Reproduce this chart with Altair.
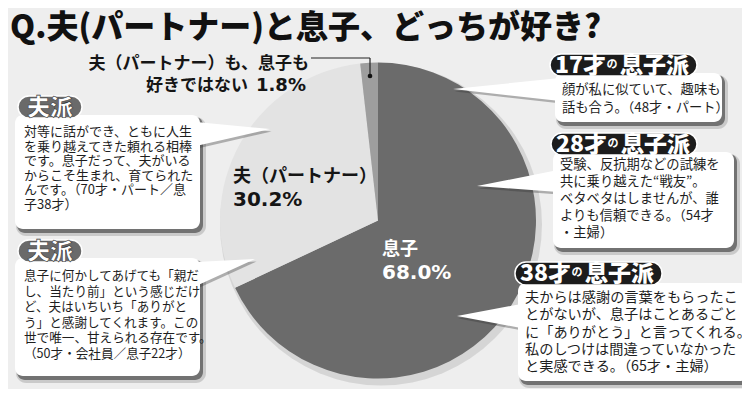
import altair as alt
import pandas as pd

# ---------------- data ----------------
categories = ["息子", "夫（パートナー）", "夫（パートナー）も、息子も好きではない"]
values = [68.0, 30.2, 1.8]
slice_colors = ["#6b6b6b", "#e3e3e3", "#9e9e9e"]

title_text = "Q.夫(パートナー)と息子、どっちが好き?"
neither_lines = ["夫（パートナー）も、息子も", "好きではない"]

callout_ids = ["L1", "L2", "R1", "R2", "R3"]
tag_age = ["", "", "17才", "28才", "38才"]
tag_main = ["夫派", "夫派", "息子派", "息子派", "息子派"]
comments = [
    ["対等に話ができ、ともに人生", "を乗り越えてきた頼れる相棒", "です。息子だって、夫がいる",
     "からこそ生まれ、育てられた", "んです。（70才・パート／息", "子38才）"],
    ["息子に何かしてあげても「親だ", "し、当たり前」という感じだけ", "ど、夫はいちいち「ありがと",
     "う」と感謝してくれます。この", "世で唯一、甘えられる存在です。", "（50才・会社員／息子22才）"],
    ["顔が私に似ていて、趣味も", "話も合う。（48才・パート）"],
    ["受験、反抗期などの試練を", "共に乗り越えた“戦友”。", "ベタベタはしませんが、誰",
     "よりも信頼できる。（54才", "・主婦）"],
    ["夫からは感謝の言葉をもらったこ", "とがないが、息子はことあるごと", "に「ありがとう」と言ってくれる。",
     "私のしつけは間違っていなかった", "と実感できる。（65才・主婦）"],
]

# ---------------- layout (page pixel coordinates) ----------------
W, H, M = 734, 381, 8
CX, CY, R = 378, 220.5, 158
BOX = {"L1": (15, 115, 200, 229), "L2": (15, 258, 200, 376), "R1": (555, 73, 722, 122),
       "R2": (553, 152, 734, 248), "R3": (518, 283, 748, 381)}
PILL = {"L1": (18, 96, 82, 118), "L2": (18, 240, 82, 262), "R1": (550, 54, 697, 76),
        "R2": (551, 133, 697, 155), "R3": (515, 262, 662, 285)}
PILL_FILL = {"L1": "#6a6a6a", "L2": "#6a6a6a", "R1": "#1c1c1c", "R2": "#1c1c1c", "R3": "#1c1c1c"}
TEXT = {"L1": (24, 132, 14.6, 13.0), "L2": (24, 276, 15.6, 12.6), "R1": (562, 90, 18, 13.3),
        "R2": (560, 165, 17, 13.3), "R3": (525, 298, 17.3, 14.2)}
TAIL = {"L1": [(196, 122), (270, 129), (196, 146)], "L2": [(196, 262), (255, 259), (196, 286)],
        "R1": [(560, 78), (453, 89), (560, 101)], "R2": [(558, 170), (477, 186), (558, 192)],
        "R3": [(521, 304), (457, 316), (521, 328)]}

XS = alt.Scale(domain=[M, M + W], nice=False, zero=False)
YS = alt.Scale(domain=[M, M + H], nice=False, zero=False, reverse=True)
FONT_JP = "Noto Sans CJK JP"
FONT_NUM = "DejaVu Sans"


def X(f="x"):
    return alt.X(f"{f}:Q", scale=XS, axis=None)


def Y(f="y"):
    return alt.Y(f"{f}:Q", scale=YS, axis=None)


# ---------------- pie ----------------
pie_df = pd.DataFrame({"category": categories, "value": values, "order": [0, 1, 2]})
pie_shadow = alt.Chart(pd.DataFrame({"a": [0]})).mark_arc(
    outerRadius=R + 3, theta=0, theta2=6.2832, color="#000000", opacity=0.10
).encode(x=alt.value(CX - M + 3), y=alt.value(CY - M + 4))
pie = alt.Chart(pie_df).mark_arc(outerRadius=R).encode(
    theta=alt.Theta("value:Q", stack=True),
    color=alt.Color("category:N", scale=alt.Scale(domain=categories, range=slice_colors), legend=None),
    order=alt.Order("order:Q"),
    x=alt.value(CX - M), y=alt.value(CY - M),
)

pct = [f"{v:.1f}%" for v in values]
lab_jp = pd.DataFrame({"t": [categories[0], categories[1]], "x": [382, 233], "y": [250, 177],
                       "c": ["#ffffff", "#151515"]})
lab_num = pd.DataFrame({"t": [pct[0], pct[1]], "x": [382, 233], "y": [273, 200],
                        "c": ["#ffffff", "#151515"]})
pie_lab_jp = alt.Chart(lab_jp).mark_text(font=FONT_JP, fontWeight="bold", fontSize=18, align="left",
                                         baseline="middle").encode(
    x=X(), y=Y(), text="t:N", color=alt.Color("c:N", scale=None))
pie_lab_num = alt.Chart(lab_num).mark_text(font=FONT_NUM, fontWeight="bold", fontSize=20, align="left",
                                           baseline="middle").encode(
    x=X(), y=Y(), text="t:N", color=alt.Color("c:N", scale=None))

nei_df = pd.DataFrame({"t": neither_lines, "x": [309, 248], "y": [64, 86]})
nei_lab = alt.Chart(nei_df).mark_text(font=FONT_JP, fontWeight="bold", fontSize=17, align="right",
                                      baseline="middle", color="#151515").encode(x=X(), y=Y(), text="t:N")
nei_num = alt.Chart(pd.DataFrame({"t": [pct[2]], "x": [256], "y": [86]})).mark_text(
    font=FONT_NUM, fontWeight="bold", fontSize=18, align="left", baseline="middle", color="#151515"
).encode(x=X(), y=Y(), text="t:N")
leader = alt.Chart(pd.DataFrame({"x": [311, 370], "x2": [370, 370], "y": [58, 58], "y2": [58, 76]})).mark_rule(
    color="#222222", strokeWidth=1.2).encode(x=X(), x2="x2:Q", y=Y(), y2="y2:Q")
dot = alt.Chart(pd.DataFrame({"x": [370], "y": [76]})).mark_circle(size=22, color="#111111", opacity=1).encode(
    x=X(), y=Y())

# ---------------- title ----------------
title = alt.Chart(pd.DataFrame({"t": [title_text], "x": [10], "y": [28]})).mark_text(
    font=FONT_JP, fontWeight=900, fontSize=32, align="left", baseline="middle", color="#111111"
).encode(x=X(), y=Y(), text="t:N")

# ---------------- callouts ----------------
box_df = pd.DataFrame([{"id": k, "x": BOX[k][0], "y": BOX[k][1], "x2": BOX[k][2], "y2": BOX[k][3]}
                       for k in callout_ids])
sh1 = box_df.assign(x=box_df.x + 1, y=box_df.y + 2, x2=box_df.x2 + 6, y2=box_df.y2 + 7)
sh2 = box_df.assign(x=box_df.x + 2, y=box_df.y + 2, x2=box_df.x2 + 3, y2=box_df.y2 + 4)
shadow1 = alt.Chart(sh1).mark_rect(cornerRadius=10, color="#000000", opacity=0.15).encode(
    x=X(), x2="x2:Q", y=Y(), y2="y2:Q")
shadow2 = alt.Chart(sh2).mark_rect(cornerRadius=8, color="#2a2a2a", opacity=0.55).encode(
    x=X(), x2="x2:Q", y=Y(), y2="y2:Q")


def tail_path(pts, dx=0, dy=0):
    s = "M" + "L".join(f"{px - M + dx},{py - M + dy}" for px, py in pts) + "Z"
    return s


tail_df = pd.DataFrame({"p": [tail_path(TAIL[k]) for k in callout_ids]})
tail_sh_df = pd.DataFrame({"p": [tail_path(TAIL[k], 1.5, 2.5) for k in callout_ids]})
tails_sh = alt.Chart(tail_sh_df).mark_point(filled=True, opacity=0.35, color="#333333", size=4).encode(
    x=alt.value(0), y=alt.value(0), shape=alt.Shape("p:N", scale=None))
tails = alt.Chart(tail_df).mark_point(filled=True, opacity=1, color="#ffffff", size=4).encode(
    x=alt.value(0), y=alt.value(0), shape=alt.Shape("p:N", scale=None))

boxes = alt.Chart(box_df).mark_rect(cornerRadius=8, color="#ffffff").encode(
    x=X(), x2="x2:Q", y=Y(), y2="y2:Q")

pill_df = pd.DataFrame([{"id": k, "x": PILL[k][0], "y": PILL[k][1], "x2": PILL[k][2], "y2": PILL[k][3],
                         "f": PILL_FILL[k]} for k in callout_ids])
pills = alt.Chart(pill_df).mark_rect(cornerRadius=11, stroke="#ffffff", strokeWidth=1.5).encode(
    x=X(), x2="x2:Q", y=Y(), y2="y2:Q", color=alt.Color("f:N", scale=None))

# pill labels
pl_center, pl_age, pl_no, pl_main = [], [], [], []
for i, k in enumerate(callout_ids):
    x0, y0, x1, y1 = PILL[k]
    ym = (y0 + y1) / 2 + 0.5
    if tag_age[i]:
        pl_age.append({"t": tag_age[i], "x": x0 + 5, "y": ym})
        pl_no.append({"t": "の", "x": x0 + 62, "y": ym - 1})
        pl_main.append({"t": tag_main[i], "x": x0 + 70, "y": ym})
    else:
        pl_center.append({"t": tag_main[i], "x": (x0 + x1) / 2, "y": ym})
pill_text_c = alt.Chart(pd.DataFrame(pl_center)).mark_text(
    font=FONT_JP, fontWeight=900, fontSize=23, align="center", baseline="middle", color="#ffffff",
    stroke="#333333", strokeWidth=0.6).encode(x=X(), y=Y(), text="t:N")
pill_text_age = alt.Chart(pd.DataFrame(pl_age)).mark_text(
    font=FONT_JP, fontWeight=900, fontSize=23, align="left", baseline="middle", color="#ffffff"
).encode(x=X(), y=Y(), text="t:N")
pill_text_no = alt.Chart(pd.DataFrame(pl_no)).mark_text(
    font=FONT_JP, fontWeight="bold", fontSize=11, align="center", baseline="middle", color="#ffffff"
).encode(x=X(), y=Y(), text="t:N")
pill_text_main = alt.Chart(pd.DataFrame(pl_main)).mark_text(
    font=FONT_JP, fontWeight=900, fontSize=23, align="left", baseline="middle", color="#ffffff"
).encode(x=X(), y=Y(), text="t:N")

# body text
rows = []
for i, k in enumerate(callout_ids):
    tx, ty, sp, fs = TEXT[k]
    for j, line in enumerate(comments[i]):
        rows.append({"t": line, "x": tx, "y": ty + j * sp, "fs": fs})
body = alt.Chart(pd.DataFrame(rows)).mark_text(
    font=FONT_JP, align="left", baseline="middle", color="#1e1e1e"
).encode(x=X(), y=Y(), text="t:N", size=alt.Size("fs:Q", scale=None))

chart = alt.layer(
    pie_shadow, pie, pie_lab_jp, pie_lab_num, leader, dot, nei_lab, nei_num, title,
    shadow1, shadow2, tails_sh, tails, boxes, pills,
    pill_text_c, pill_text_age, pill_text_no, pill_text_main, body,
).properties(
    width=W, height=H, padding=0, autosize="none", background="#eeeeee"
).configure_view(stroke=None)

chart.save("out.html", embed_options={"renderer": "svg", "actions": False})
